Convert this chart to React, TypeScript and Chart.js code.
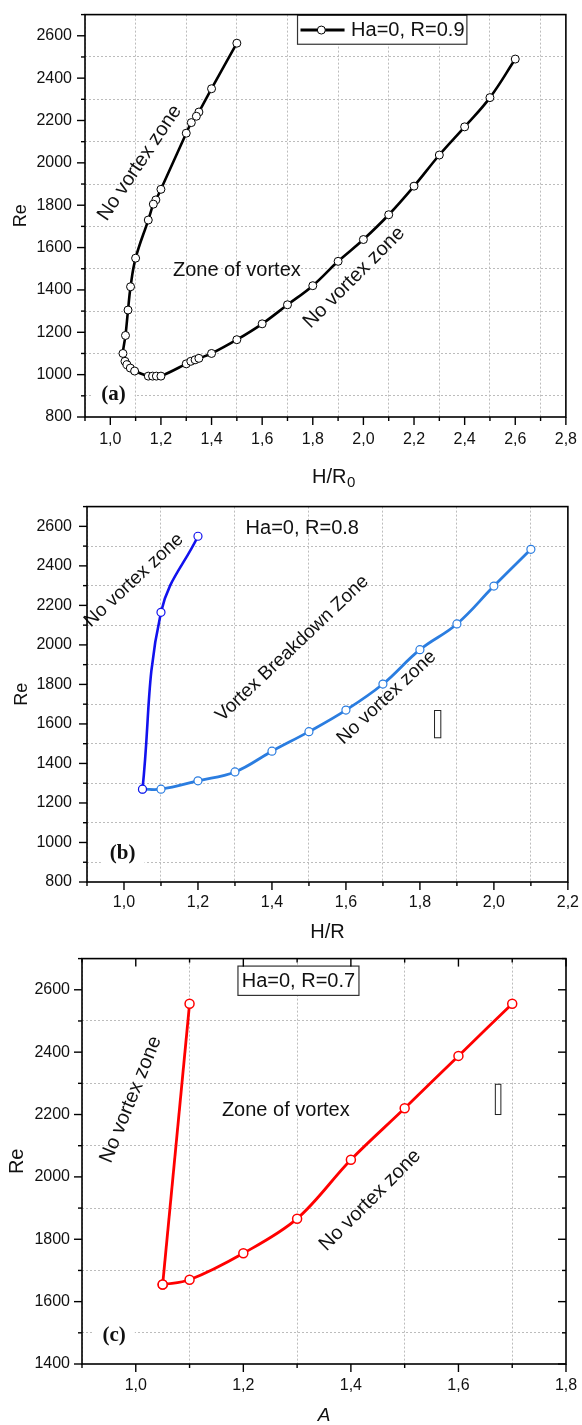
import React, { useEffect, useRef } from "react";
import { Chart, registerables } from "chart.js";

Chart.register(...registerables);

const SANS = "'Liberation Sans', Arial, Helvetica, sans-serif";
const SERIF = "'Liberation Serif', 'Times New Roman', serif";
const GRID = "#bcbcbc";
const INK = "#111";

// ---------- Panel (a): Ha=0, R=0.9 ----------
const aLabel = "Ha=0, R=0.9";
const aX = [1.5, 1.4, 1.35, 1.34, 1.32, 1.3, 1.2, 1.18, 1.17, 1.15, 1.1, 1.08, 1.07, 1.06, 1.05, 1.058, 1.066, 1.079, 1.096, 1.15, 1.167, 1.182, 1.2, 1.3, 1.318, 1.335, 1.35, 1.4, 1.5, 1.6, 1.7, 1.8, 1.9, 2.0, 2.1, 2.2, 2.3, 2.4, 2.5, 2.6];
const aY = [2565, 2350, 2240, 2220, 2190, 2140, 1875, 1825, 1805, 1730, 1550, 1415, 1305, 1185, 1100, 1063, 1047, 1031, 1017, 993, 993, 993, 993, 1051, 1063, 1070, 1077, 1100, 1165, 1240, 1330, 1420, 1535, 1638, 1755, 1890, 2037, 2170, 2308, 2490];
const aXRange = [0.9, 2.8];
const aYRange = [800, 2700];

// ---------- Panel (b): Ha=0, R=0.8 ----------
const bLabel = "Ha=0, R=0.8";
const bLeftX = [1.05, 1.1, 1.2];
const bLeftY = [1270, 2165, 2550];
const bRightX = [1.05, 1.1, 1.2, 1.3, 1.4, 1.5, 1.6, 1.7, 1.8, 1.9, 2.0, 2.1];
const bRightY = [1270, 1270, 1312, 1357, 1462, 1561, 1670, 1802, 1976, 2106, 2298, 2484];
const bXRange = [0.9, 2.2];
const bYRange = [800, 2700];

// ---------- Panel (c): Ha=0, R=0.7 ----------
const cLabel = "Ha=0, R=0.7";
const cLeftX = [1.05, 1.1];
const cLeftY = [1655, 2555];
const cRightX = [1.05, 1.1, 1.2, 1.3, 1.4, 1.5, 1.6, 1.7];
const cRightY = [1655, 1670, 1755, 1866, 2055, 2220, 2388, 2555];
const cXRange = [0.9, 1.8];
const cYRange = [1400, 2700];

const zip = (xs: number[], ys: number[]) => xs.map((x, i) => ({ x, y: ys[i] }));
const isMinorX = (v: number) => Math.round(v * 10) % 2 !== 0;
const isMinorY = (v: number) => Math.round(v / 100) % 2 !== 0;
const fmtX = (v: number) => {
  const k = Math.round(v * 10);
  return k % 2 === 0 ? (k / 10).toFixed(1).replace(".", ",") : "";
};
const fmtY = (v: number) => {
  const k = Math.round(v / 100);
  return k % 2 === 0 ? String(k * 100) : "";
};

type TextAnn = {
  text: string; x: number; y: number; rot?: number; size: number;
  bold?: boolean; serif?: boolean; bg?: number;
};
type BoxAnn = { x1: number; x2: number; y1: number; y2: number; stroke: string; lw: number };
type LegendAnn = {
  x1: number; x2: number; y1: number; y2: number;
  lineX1: number; lineX2: number; markerX: number; textX: number; y: number; size: number;
};

interface PanelSpec {
  top: number; height: number;
  yWidth: number; xHeight: number; padTop: number; padRight: number;
  xRange: number[]; yRange: number[];
  datasets: any[];
  yTitleSize: number; yTitlePad: number; yTickPad: number; xTickPad: number;
  xTitle?: { text: string; size: number; italic?: boolean; pad: number; lineHeight?: number };
  subTitle?: { main: string; sub: string; size: number; subSize: number; dx: number; dy: number; subDy: number };
  texts: TextAnn[]; boxes: BoxAnn[]; legend?: LegendAnn; mirror: boolean;
}

const line = (ctx: CanvasRenderingContext2D, x1: number, y1: number, x2: number, y2: number) => {
  ctx.beginPath(); ctx.moveTo(x1, y1); ctx.lineTo(x2, y2); ctx.stroke();
};

function makeDecor(spec: PanelSpec) {
  return {
    id: "decor",
    afterDraw(chart: any) {
      const { ctx, chartArea: a } = chart;
      const xs = chart.scales.x, ys = chart.scales.y;
      const X = (v: number) => xs.getPixelForValue(v);
      const Y = (v: number) => ys.getPixelForValue(v);
      ctx.save();
      for (const b of spec.boxes) {
        const x1 = X(b.x1), x2 = X(b.x2), y1 = Y(b.y1), y2 = Y(b.y2);
        ctx.fillStyle = "#fff";
        ctx.fillRect(x1, y1, x2 - x1, y2 - y1);
        ctx.strokeStyle = b.stroke; ctx.lineWidth = b.lw;
        ctx.strokeRect(x1, y1, x2 - x1, y2 - y1);
      }
      if (spec.legend) {
        const L = spec.legend;
        const ds = chart.data.datasets[0];
        const x1 = X(L.x1), x2 = X(L.x2), y1 = Y(L.y1), y2 = Y(L.y2);
        ctx.fillStyle = "#fff"; ctx.fillRect(x1, y1, x2 - x1, y2 - y1);
        ctx.strokeStyle = "#333"; ctx.lineWidth = 1.2; ctx.strokeRect(x1, y1, x2 - x1, y2 - y1);
        const yy = Y(L.y);
        ctx.strokeStyle = ds.borderColor; ctx.lineWidth = 3;
        line(ctx, X(L.lineX1), yy, X(L.lineX2), yy);
        ctx.beginPath(); ctx.arc(X(L.markerX), yy, 4, 0, Math.PI * 2);
        ctx.fillStyle = "#fff"; ctx.fill(); ctx.lineWidth = 1; ctx.stroke();
        ctx.fillStyle = INK; ctx.font = `${L.size}px ${SANS}`;
        ctx.textAlign = "left"; ctx.textBaseline = "middle";
        ctx.fillText(ds.label, X(L.textX), yy);
      }
      for (const t of spec.texts) {
        ctx.save();
        ctx.translate(X(t.x), Y(t.y));
        ctx.rotate(-((t.rot || 0) * Math.PI) / 180);
        ctx.font = `${t.bold ? "bold " : ""}${t.size}px ${t.serif ? SERIF : SANS}`;
        ctx.textAlign = "center"; ctx.textBaseline = "middle";
        if (t.bg) {
          const w = ctx.measureText(t.text).width;
          ctx.fillStyle = "#fff";
          ctx.fillRect(-w / 2 - t.bg, -t.size * 0.55, w + 2 * t.bg, t.size * 1.1);
        }
        ctx.fillStyle = INK;
        ctx.fillText(t.text, 0, 0);
        ctx.restore();
      }
      // frame
      ctx.strokeStyle = "#000"; ctx.lineWidth = 1.6;
      ctx.strokeRect(a.left, a.top, a.right - a.left, a.bottom - a.top);
      // tick marks
      ctx.lineWidth = 1.4;
      for (const t of xs.ticks) {
        const p = X(t.value);
        const len = isMinorX(t.value) ? 4 : 8;
        line(ctx, p, a.bottom, p, a.bottom + len);
        if (spec.mirror) line(ctx, p, a.top, p, a.top + len);
      }
      for (const t of ys.ticks) {
        const p = Y(t.value);
        const len = isMinorY(t.value) ? 4 : 8;
        line(ctx, a.left, p, a.left - len, p);
        if (spec.mirror) line(ctx, a.right, p, a.right - len, p);
      }
      if (spec.subTitle) {
        const s = spec.subTitle;
        ctx.font = `${s.size}px ${SANS}`;
        const w1 = ctx.measureText(s.main).width;
        ctx.font = `${s.subSize}px ${SANS}`;
        const w2 = ctx.measureText(s.sub).width;
        const cx = (a.left + a.right) / 2 + s.dx;
        const start = cx - (w1 + w2) / 2;
        const base = a.bottom + s.dy;
        ctx.fillStyle = INK; ctx.textAlign = "left"; ctx.textBaseline = "alphabetic";
        ctx.font = `${s.size}px ${SANS}`;
        ctx.fillText(s.main, start, base);
        ctx.font = `${s.subSize}px ${SANS}`;
        ctx.fillText(s.sub, start + w1 + 0.5, base + s.subDy);
      }
      ctx.restore();
    },
  };
}

function buildConfig(spec: PanelSpec): any {
  return {
    type: "line",
    data: { datasets: spec.datasets },
    plugins: [makeDecor(spec)],
    options: {
      responsive: false,
      animation: false,
      devicePixelRatio: 1,
      layout: { autoPadding: false, padding: { left: 0, right: spec.padRight, top: spec.padTop, bottom: 0 } },
      plugins: { legend: { display: false }, tooltip: { enabled: false } },
      scales: {
        x: {
          type: "linear",
          min: spec.xRange[0],
          max: spec.xRange[1],
          afterFit: (s: any) => { s.height = spec.xHeight; },
          grid: {
            color: (c: any) => (c.tick && isMinorX(c.tick.value) ? GRID : "rgba(0,0,0,0)"),
            lineWidth: 1,
            tickLength: 8,
            tickColor: "rgba(0,0,0,0)",
          },
          border: { display: false, dash: [2, 2] },
          ticks: {
            stepSize: 0.1, autoSkip: false, maxRotation: 0, minRotation: 0,
            padding: spec.xTickPad, color: INK,
            font: { family: SANS, size: 16 },
            callback: (v: any) => fmtX(Number(v)),
          },
          title: spec.xTitle
            ? {
                display: true, text: spec.xTitle.text, color: INK,
                font: { family: SANS, size: spec.xTitle.size, style: spec.xTitle.italic ? "italic" : "normal", lineHeight: spec.xTitle.lineHeight || 1.2 },
                padding: { top: 0, bottom: spec.xTitle.pad },
              }
            : { display: false },
        },
        y: {
          type: "linear",
          min: spec.yRange[0],
          max: spec.yRange[1],
          afterFit: (s: any) => { s.width = spec.yWidth; },
          grid: {
            color: (c: any) => (c.tick && isMinorY(c.tick.value) ? GRID : "rgba(0,0,0,0)"),
            lineWidth: 1,
            tickLength: 8,
            tickColor: "rgba(0,0,0,0)",
          },
          border: { display: false, dash: [2, 2] },
          ticks: {
            stepSize: 100, autoSkip: false,
            padding: spec.yTickPad, color: INK,
            font: { family: SANS, size: 16 },
            callback: (v: any) => fmtY(Number(v)),
          },
          title: {
            display: true, text: "Re", color: INK,
            font: { family: SANS, size: spec.yTitleSize },
            padding: { top: spec.yTitlePad, bottom: 0 },
          },
        },
      },
    },
  };
}

const lineDs = (label: string, data: any[], color: string, width: number, tension: number, radius: number, pbw: number) => ({
  label, data, borderColor: color, borderWidth: width, tension,
  pointRadius: radius, pointBorderWidth: pbw, pointBackgroundColor: "#fff", pointBorderColor: color,
  fill: false,
});

const panels: PanelSpec[] = [
  {
    top: 0, height: 490, yWidth: 85, xHeight: 73, padTop: 9, padRight: 12,
    xRange: aXRange, yRange: aYRange,
    datasets: [lineDs(aLabel, zip(aX, aY), "#000", 2.6, 0.4, 4, 1)],
    yTitleSize: 18, yTitlePad: 10, yTickPad: 5, xTickPad: 5,
    subTitle: { main: "H/R", sub: "0", size: 20, subSize: 15, dx: 8, dy: 65.5, subDy: 4.6 },
    texts: [
      { text: "No vortex zone", x: 1.116, y: 2000, rot: 56, size: 20 },
      { text: "Zone of vortex", x: 1.5, y: 1493, size: 20 },
      { text: "No vortex zone", x: 1.963, y: 1458, rot: 45, size: 20 },
      { text: "(a)", x: 1.0125, y: 904, size: 21, bold: true, serif: true, bg: 9 },
    ],
    boxes: [],
    legend: { x1: 1.7397, x2: 2.4089, y1: 2697, y2: 2560, lineX1: 1.7515, lineX2: 1.9255, markerX: 1.8338, textX: 1.9514, y: 2627, size: 20 },
    mirror: false,
  },
  {
    top: 490, height: 455, yWidth: 87, xHeight: 63, padTop: 8, padRight: 13,
    xRange: bXRange, yRange: bYRange,
    datasets: [
      lineDs(bLabel, zip(bLeftX, bLeftY), "#1212ee", 2.6, 0.4, 4, 1.2),
      lineDs(bLabel, zip(bRightX, bRightY), "#2b7de0", 2.8, 0.4, 4, 1.2),
    ],
    yTitleSize: 18, yTitlePad: 11, yTickPad: 7, xTickPad: 3,
    xTitle: { text: "H/R", size: 20, pad: 1 },
    texts: [
      { text: "No vortex zone", x: 1.027, y: 2327, rot: 43, size: 19 },
      { text: "Vortex Breakdown Zone", x: 1.455, y: 1982, rot: 43.5, size: 19 },
      { text: "No vortex zone", x: 1.71, y: 1733, rot: 43, size: 19 },
      { text: bLabel, x: 1.482, y: 2587, size: 20 },
      { text: "(b)", x: 0.9965, y: 943, size: 21, bold: true, serif: true, bg: 9 },
    ],
    boxes: [{ x1: 1.8395, x2: 1.8565, y1: 1668, y2: 1530, stroke: "#222", lw: 1 }],
    mirror: false,
  },
  {
    top: 945, height: 480, yWidth: 82, xHeight: 61, padTop: 10, padRight: 16,
    xRange: cXRange, yRange: cYRange,
    datasets: [
      lineDs(cLabel, zip(cLeftX, cLeftY), "#ff0000", 2.8, 0, 4.5, 1.5),
      lineDs(cLabel, zip(cRightX, cRightY), "#ff0000", 2.8, 0.35, 4.5, 1.5),
    ],
    yTitleSize: 20, yTitlePad: 5, yTickPad: 4, xTickPad: 4,
    xTitle: { text: "A", size: 19, italic: true, pad: 0, lineHeight: 1 },
    texts: [
      { text: "No vortex zone", x: 0.991, y: 2248, rot: 68, size: 20 },
      { text: "Zone of vortex", x: 1.279, y: 2213, size: 20 },
      { text: "No vortex zone", x: 1.436, y: 1925, rot: 45, size: 20 },
      { text: cLabel, x: 1.3025, y: 2628, size: 20 },
      { text: "(c)", x: 0.9598, y: 1492, size: 21, bold: true, serif: true, bg: 9 },
    ],
    boxes: [
      { x1: 1.19, x2: 1.415, y1: 2676, y2: 2582, stroke: "#333", lw: 1.2 },
      { x1: 1.6686, x2: 1.6789, y1: 2297, y2: 2200, stroke: "#222", lw: 1 },
    ],
    mirror: true,
  },
];

function Panel({ spec }: { spec: PanelSpec }) {
  const ref = useRef<HTMLCanvasElement | null>(null);
  useEffect(() => {
    if (!ref.current) return;
    const chart = new Chart(ref.current, buildConfig(spec));
    return () => chart.destroy();
  }, [spec]);
  return (
    <canvas
      ref={ref}
      width={582}
      height={spec.height}
      style={{ position: "absolute", left: 0, top: spec.top, width: 582, height: spec.height }}
    />
  );
}

export default function App() {
  return (
    <div style={{ position: "absolute", left: 0, top: 0, width: 582, height: 1425, overflow: "hidden", background: "#fff" }}>
      {panels.map((p, i) => (
        <Panel key={i} spec={p} />
      ))}
    </div>
  );
}
